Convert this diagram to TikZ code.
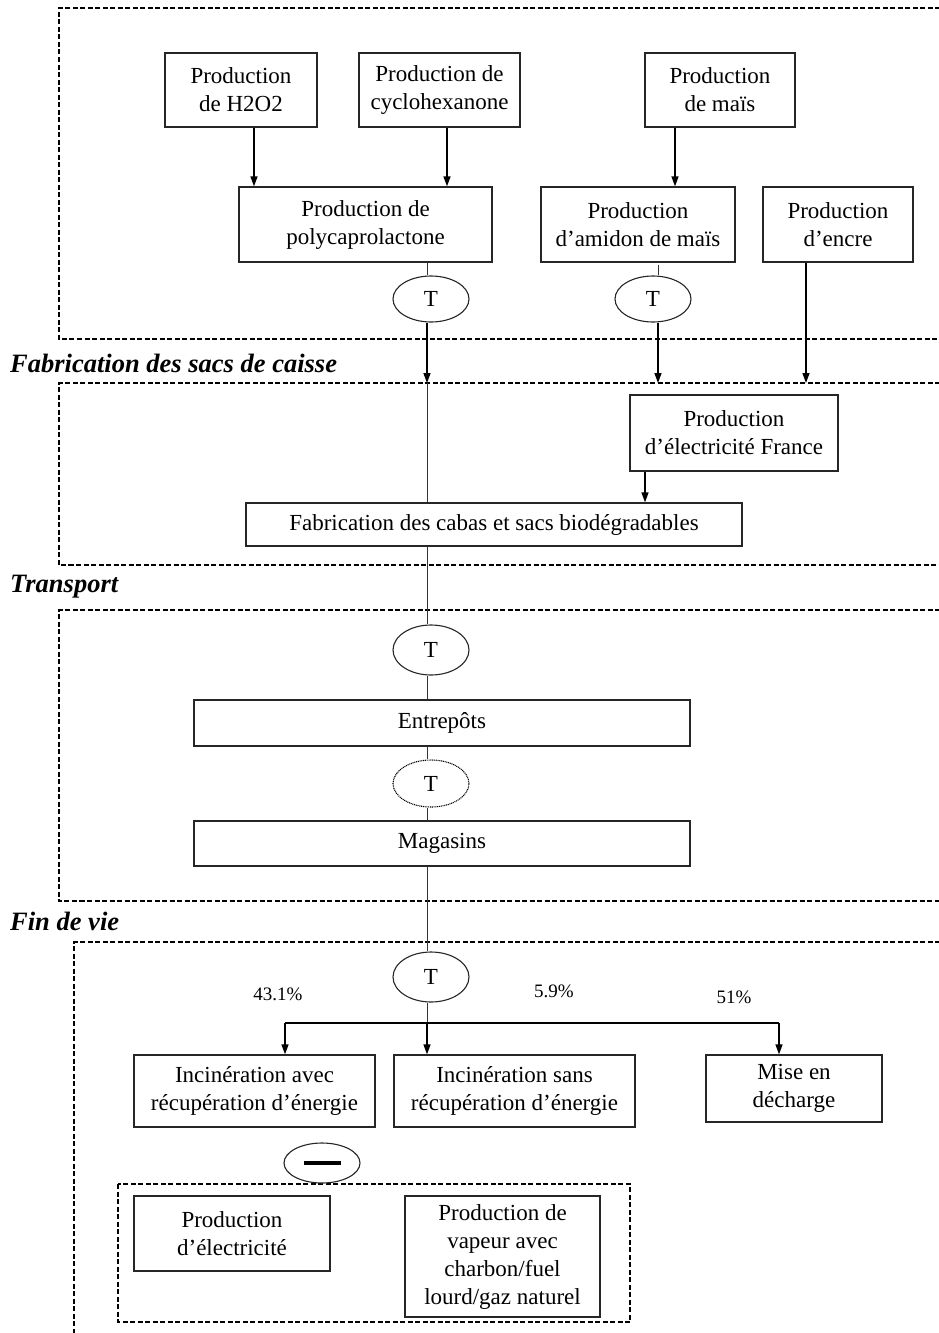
\documentclass[tikz,border=0pt]{standalone}
\usepackage{fontspec}
\setmainfont{Liberation Serif}
\usetikzlibrary{arrows.meta,shapes.geometric}
\begin{document}
\begin{tikzpicture}[x=1pt,y=-1pt,
  box/.style={draw=black!85,line width=1.3pt,inner sep=0pt,align=center,fill=white,font=\fontsize{23}{28}\selectfont},
  tnode/.style={draw=black!85,ellipse,line width=1.1pt,minimum width=76pt,minimum height=46pt,inner sep=0pt,fill=white,font=\fontsize{23}{28}\selectfont},
  arr/.style={line width=1.4pt,-{Triangle[length=10pt,width=7pt]}},
  thinline/.style={line width=1pt,draw=black!80},
  zone/.style={line width=1.4pt,dash pattern=on 5pt off 2.5pt},
  lab/.style={anchor=west,font=\fontsize{26.5}{30}\selectfont\bfseries\itshape,inner sep=0pt},
  pct/.style={font=\fontsize{19}{22}\selectfont,inner sep=0pt}]
\useasboundingbox (0,0) rectangle (938,1333);

% zones
\draw[zone] (940,8) -- (59,8) -- (59,339) -- (940,339);
\draw[zone] (940,383) -- (59,383) -- (59,565) -- (940,565);
\draw[zone] (940,610) -- (59,610) -- (59,901) -- (940,901);
\draw[zone] (940,942) -- (74,942) -- (74,1335);
\draw[zone] (118,1184) rectangle (630,1322);

% section labels
\node[lab] (l1) at (10,363) {Fabrication des sacs de caisse};
\node[lab] (l2) at (10,587) {Transport};
\node[lab] (l3) at (10,921) {Fin de vie};

% top nodes
\node[box,minimum width=152pt,minimum height=74pt] (h2o2) at (241,90) {Production\\de H2O2};
\node[box,minimum width=161pt,minimum height=74pt] (cyclo) at (439.5,90) {Production de\\cyclohexanone};
\node[box,minimum width=150pt,minimum height=74pt] (mais) at (720,90) {Production\\de maïs};
\node[box,minimum width=253pt,minimum height=75pt] (poly) at (365.5,224.5) {Production de\\polycaprolactone};
\node[box,minimum width=194pt,minimum height=75pt] (amidon) at (638,224.5) {Production\\d’amidon de maïs};
\node[box,minimum width=150pt,minimum height=75pt] (encre) at (838,224.5) {Production\\d’encre};
\node[tnode] (T1) at (431,299) {T};
\node[tnode] (T2) at (653,299) {T};

% fabrication
\node[box,minimum width=208pt,minimum height=76pt] (elecF) at (734,433) {Production\\d’électricité France};
\node[box,minimum width=496pt,minimum height=43pt] (fab) at (494,524.5) {Fabrication des cabas et sacs biodégradables};

% transport
\node[tnode,minimum height=50pt] (T3) at (431,650) {T};
\node[box,minimum width=496pt,minimum height=46pt] (entrep) at (442,723) {Entrepôts};
\node[tnode,draw=black,dash pattern=on 1pt off 0.8pt,minimum height=47pt] (T4) at (431,783.5) {T};
\node[box,minimum width=496pt,minimum height=45pt] (mag) at (442,843.5) {Magasins};

% fin de vie
\node[tnode,minimum height=50pt] (T5) at (431,977) {T};
\node[pct] (p1) at (278,994) {43.1\%};
\node[pct] (p2) at (554,991) {5.9\%};
\node[pct] (p3) at (734,997) {51\%};
\node[box,minimum width=241pt,minimum height=72pt] (incA) at (254.5,1091) {Incinération avec\\récupération d’énergie};
\node[box,minimum width=241pt,minimum height=72pt] (incS) at (514.5,1091) {Incinération sans\\récupération d’énergie};
\node[box,minimum width=176pt,minimum height=67pt] (mise) at (794,1088.5) {Mise en\\décharge};
\node[tnode,minimum height=40pt] (minus) at (322,1163) {\rule{37pt}{4pt}};
\node[box,minimum width=196pt,minimum height=75pt] (elec) at (232,1233.5) {Production\\d’électricité};
\node[box,minimum width=195pt,minimum height=121pt] (vap) at (502.5,1256.5) {Production de\\vapeur avec\\charbon/fuel\\lourd/gaz naturel};

% helper coordinates
\coordinate (xa) at (427,383);
\coordinate (xb) at (658,383);
\coordinate (xc) at (806,383);
\coordinate (br) at (427,1023);

% connectors top
\draw[arr] ([xshift=13pt]h2o2.south) -- ([xshift=13pt]h2o2.south |- poly.north);
\draw[arr] ([xshift=7.5pt]cyclo.south) -- ([xshift=7.5pt]cyclo.south |- poly.north);
\draw[arr] ([xshift=-45pt]mais.south) -- ([xshift=-45pt]mais.south |- amidon.north);
\draw[thinline] (poly.south -| xa) -- (T1.north -| xa);
\draw[arr] (T1.south -| xa) -- (xa);
\draw[thinline] ([yshift=-2pt]amidon.south -| xb) -- (T2.north -| xb);
\draw[arr] (T2.south -| xb) -- (xb);
\draw[arr] (encre.south -| xc) -- (xc);

% fabrication connectors
\draw[thinline] (xa) -- (fab.north -| xa);
\draw[arr] ([xshift=-89pt]elecF.south) -- ([xshift=-89pt]elecF.south |- fab.north);

% transport connectors
\draw[thinline] (fab.south -| xa) -- (T3.north -| xa);
\draw[thinline] (T3.south -| xa) -- (entrep.north -| xa);
\draw[thinline] (entrep.south -| xa) -- (T4.north -| xa);
\draw[thinline] (T4.south -| xa) -- (mag.north -| xa);
\draw[thinline] (mag.south -| xa) -- (T5.north -| xa);

% fin de vie connectors
\draw[thinline] (T5.south -| xa) -- (br);
\draw[line width=1.4pt] ([xshift=30.5pt]incA.north |- br) -- ([xshift=-15pt]mise.north |- br);
\draw[arr] (br) -- (incS.north -| br);
\draw[arr] ([xshift=30.5pt]incA.north |- br) -- ([xshift=30.5pt]incA.north);
\draw[arr] ([xshift=-15pt]mise.north |- br) -- ([xshift=-15pt]mise.north);
\end{tikzpicture}
\end{document}
